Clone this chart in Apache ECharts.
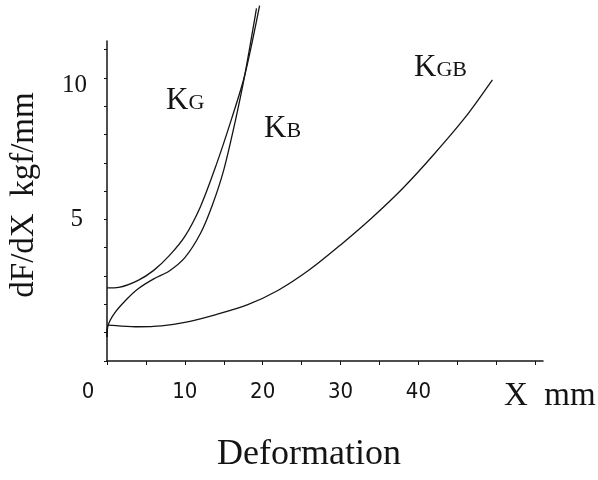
<!DOCTYPE html>
<html><head><meta charset="utf-8">
<script src="https://cdn.jsdelivr.net/npm/echarts@6/dist/echarts.min.js"></script>
<style>html,body{margin:0;padding:0;background:#fff}#c{width:598px;height:480px}</style>
</head><body><div id="c"></div>
<script>
// Deformation X (mm) and stiffness dF/dX (kgf/mm)
const kgX  = [0, 1.5, 4, 6, 8, 10, 12, 14, 16, 17.7, 19.6];
const kgY  = [2.58, 2.6, 2.85, 3.2, 3.72, 4.4, 5.45, 6.9, 8.55, 10.1, 12.55];
const kbX  = [0, 0.15, 1, 2.5, 4, 6, 8, 10, 12, 13.5, 15, 16.5, 17.7, 19.2];
const kbY  = [0.85, 1.27, 1.7, 2.17, 2.55, 2.9, 3.18, 3.65, 4.5, 5.48, 6.75, 8.5, 10.1, 12.45];
const kgbX = [0, 0.15, 1.5, 4, 7, 10, 14, 18, 22, 26, 30, 34, 38, 42, 46, 49.5];
const kgbY = [0.85, 1.27, 1.24, 1.21, 1.24, 1.36, 1.64, 1.98, 2.5, 3.22, 4.1, 5.05, 6.1, 7.3, 8.6, 9.93];

const xTicks  = [0, 5, 10, 15, 20, 25, 30, 35, 40, 45, 50, 55];
const xLabels = [0, 10, 20, 30, 40];
const yTicks  = [0, 1, 2, 3, 4, 5, 6, 7, 8, 9, 10, 11];
const yLabels = [5, 10];

const ink = '#141414';
const serif = 'Liberation Serif';
const narrow = "'Liberation Sans Narrow','DejaVu Sans Condensed',sans-serif";

function pairs(xs, ys) { return xs.map((x, i) => [x, ys[i]]); }
function curve(name, xs, ys) {
  return {
    name, type: 'line', data: pairs(xs, ys), showSymbol: false, symbol: 'none',
    smooth: 0.3, clip: false, silent: true,
    lineStyle: { color: ink, width: 1.3 }
  };
}
function sub(main, small) {
  return {
    text: '{k|' + main + '}{s|' + small + '}',
    rich: {
      k: { fontFamily: serif, fontSize: 31, fill: ink, verticalAlign: 'bottom', lineHeight: 34 },
      s: { fontFamily: serif, fontSize: 22, fill: ink, verticalAlign: 'bottom', lineHeight: 34, padding: [0, 0, 2, 0] }
    },
    verticalAlign: 'bottom'
  };
}

const chart = echarts.init(document.getElementById('c'));
chart.setOption({
  animation: false,
  backgroundColor: '#fff',
  textStyle: { fontFamily: serif, color: ink },
  grid: { left: 107, top: 41, width: 436, height: 320 },
  xAxis: {
    type: 'value', min: 0, max: 56,
    name: 'Deformation', nameLocation: 'middle', nameGap: 76,
    nameTextStyle: { fontFamily: serif, fontSize: 36, color: ink, padding: [0, 32, 0, 0] },
    axisLine: { lineStyle: { color: ink, width: 1.5 } },
    axisTick: { customValues: xTicks, length: 4, lineStyle: { color: ink } },
    splitLine: { show: false },
    axisLabel: {
      customValues: xLabels, margin: 20, fontFamily: narrow, fontSize: 22, color: ink,
      formatter: v => v === 0 ? '{z|0}' : String(v),
      rich: { z: { fontFamily: narrow, fontSize: 22, color: ink, padding: [0, 38, 6, 0] } }
    }
  },
  yAxis: {
    type: 'value', min: 0, max: 11.3,
    name: 'dF/dX  kgf/mm', nameLocation: 'middle', nameGap: 66, nameRotate: 90,
    nameTextStyle: { fontFamily: serif, fontSize: 33, color: ink, padding: [0, 0, 0, 12] },
    axisLine: { lineStyle: { color: ink, width: 1.5 } },
    axisTick: { customValues: yTicks, length: 3, lineStyle: { color: ink } },
    splitLine: { show: false },
    axisLabel: {
      customValues: yLabels, margin: 20, fontFamily: serif, fontSize: 25, color: ink,
      formatter: v => v === 10 ? '{t|10}' : '{f|' + v + '}',
      rich: {
        t: { fontFamily: serif, fontSize: 25, color: ink, padding: [16, 0, 0, 0] },
        f: { fontFamily: serif, fontSize: 25, color: ink, padding: [0, 4, 0, 0] }
      }
    }
  },
  series: [curve('KG', kgX, kgY), curve('KB', kbX, kbY), curve('KGB', kgbX, kgbY)],
  graphic: [
    { type: 'text', left: 166, top: 85, style: sub('K', 'G') },
    { type: 'text', left: 264, top: 113, style: sub('K', 'B') },
    { type: 'text', left: 414, top: 52, style: sub('K', 'GB') },
    { type: 'text', left: 504, top: 380, style: { text: 'X  mm', fontFamily: serif, fontSize: 33, fill: ink } }
  ]
});
</script></body></html>
